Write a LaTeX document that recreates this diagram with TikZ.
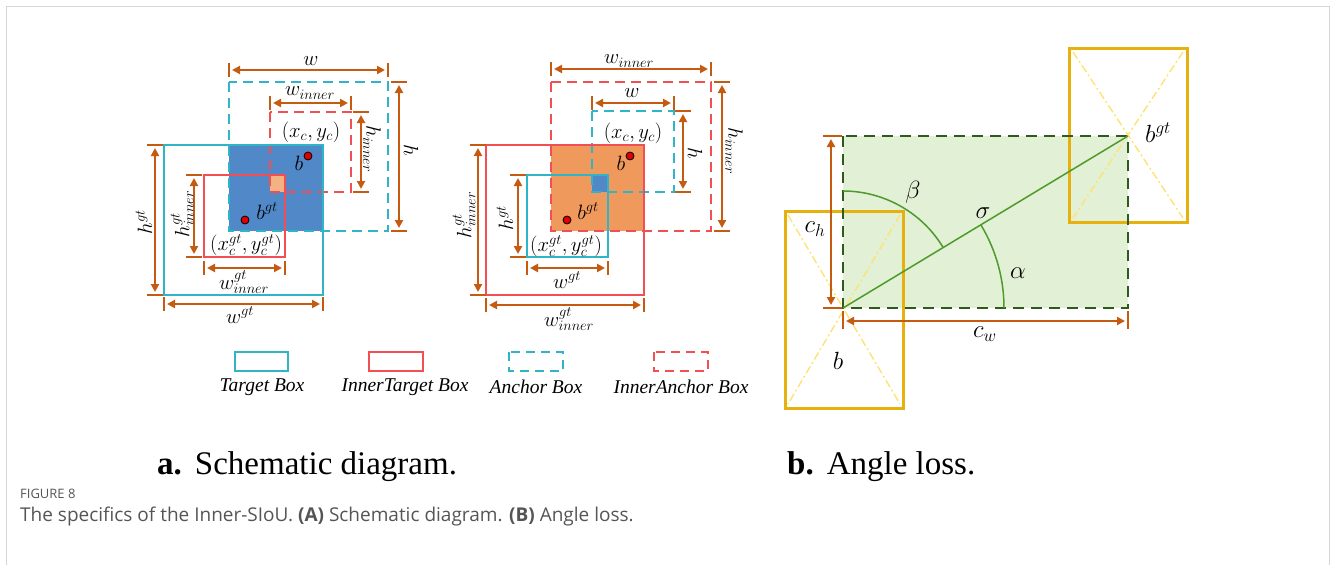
\documentclass[tikz,border=0pt]{standalone}
\usepackage{fontspec}
\setmainfont{Liberation Serif}
\newfontfamily\capfont{Open Sans}
\usetikzlibrary{arrows.meta}
\definecolor{cyanb}{HTML}{2FB4C8}
\definecolor{redb}{HTML}{F24F55}
\definecolor{bluef}{HTML}{5088C8}
\definecolor{salmonf}{HTML}{F4B183}
\definecolor{orangef}{HTML}{EF9A5C}
\definecolor{dimc}{HTML}{C55A11}
\definecolor{dotred}{HTML}{E00000}
\definecolor{goldb}{HTML}{E6B00E}
\definecolor{lyellow}{HTML}{FFE275}
\definecolor{dgreen}{HTML}{2F5A1E}
\definecolor{lgreen}{HTML}{E2F0D6}
\definecolor{mgreen}{HTML}{4E9A2A}
\definecolor{framec}{HTML}{D6D6D6}
\definecolor{capc}{HTML}{555555}
\newcommand\hdimline[3]{%
  \draw[ticksty] (#1,#3-7) -- (#1,#3+7);
  \draw[ticksty] (#2,#3-7) -- (#2,#3+7);
  \draw[dimsty] (#1,#3) -- (#2,#3);}
\newcommand\vdimline[3]{%
  \draw[ticksty] (#3-8,#1) -- (#3+8,#1);
  \draw[ticksty] (#3-8,#2) -- (#3+8,#2);
  \draw[dimsty] (#3,#1) -- (#3,#2);}
\begin{document}
\begin{tikzpicture}[x=1pt,y=-1pt,
  solidbox/.style={line width=2.6pt},
  dashbox/.style={line width=2.6pt,dash pattern=on 10pt off 6pt},
  ticksty/.style={draw=dimc,line width=2.4pt},
  dimsty/.style={draw=dimc,line width=2.4pt,shorten >=3pt,shorten <=3pt,
    {Triangle[length=8pt,width=8pt]}-{Triangle[length=8pt,width=8pt]}},
  lab/.style={font=\fontsize{19.5}{22}\selectfont,inner sep=0pt},
  rlab/.style={font=\fontsize{24}{27}\selectfont,inner sep=0pt},
  leg/.style={font=\fontsize{19.5}{22}\selectfont\itshape,inner sep=0pt},
  dotsty/.style={circle,fill=dotred,draw=black,line width=0.8pt,minimum size=8pt,inner sep=0pt},
  capsty/.style={font=\capfont\fontsize{19}{22}\selectfont,text=capc,inner sep=0pt,anchor=base west}
]
\useasboundingbox (0,0) rectangle (1332,565);
% frame
\draw[framec,line width=1.2pt] (6.5,565) -- (6.5,6.5) -- (1329.5,6.5) -- (1329.5,565);

% ================= left diagram =================
\fill[bluef] (229,145) rectangle (323,231);
\fill[salmonf] (270,175) rectangle (285,192);
\draw[cyanb,dashbox] (229,82) rectangle (388,231);
\draw[redb,dashbox] (270,112) rectangle (351,192);
\draw[cyanb,solidbox] (164,145) rectangle (323,295);
\draw[redb,solidbox] (204,175) rectangle (285,257);
\node[dotsty] (Lb) at (308,156) {};
\node[dotsty] (Lbgt) at (245,220) {};
\node[lab] (Lxc) at (311,132) {$(x_c,y_c)$};
\node[lab] (Lbl) at (299,163) {$b$};
\node[lab] (Lbgtl) at (267,211) {$b^{gt}$};
\node[lab] (Lxcgt) at (246,245) {$(x_c^{gt},y_c^{gt})$};
\hdimline{229}{388}{70}
\hdimline{270}{351}{103}
\vdimline{82}{231}{399}
\vdimline{112}{192}{361}
\vdimline{145}{295}{155}
\vdimline{175}{257}{194}
\hdimline{204}{285}{268}
\hdimline{164}{323}{304}
\node[lab] (Lw) at (311,61) {$w$};
\node[lab] (Lwin) at (310,93) {$w_{inner}$};
\node[lab,rotate=-90] (Lh) at (411,150) {$h$};
\node[lab,rotate=-90] (Lhin) at (372,149) {$h_{inner}$};
\node[lab,rotate=90] (Lhgt) at (144,222) {$h^{gt}$};
\node[lab,rotate=90] (Lhgtin) at (182,214) {$h^{gt}_{inner}$};
\node[lab] (Lwgtin) at (244,282) {$w^{gt}_{inner}$};
\node[lab] (Lwgt) at (240,315) {$w^{gt}$};

% ================= middle diagram =================
\fill[orangef] (551,145) rectangle (644,231);
\fill[bluef] (592,175) rectangle (608,192);
\draw[redb,dashbox] (551,82) rectangle (711,231);
\draw[cyanb,dashbox] (592,111) rectangle (674,192);
\draw[redb,solidbox] (486,145) rectangle (644,295);
\draw[cyanb,solidbox] (527,175) rectangle (608,257);
\node[dotsty] (Mb) at (630,156) {};
\node[dotsty] (Mbgt) at (567,220) {};
\node[lab] (Mxc) at (633,133) {$(x_c,y_c)$};
\node[lab] (Mbl) at (621,163) {$b$};
\node[lab] (Mbgtl) at (588,211) {$b^{gt}$};
\node[lab] (Mxcgt) at (566,246) {$(x_c^{gt},y_c^{gt})$};
\hdimline{551}{711}{69}
\hdimline{592}{674}{103}
\vdimline{111}{192}{683}
\vdimline{82}{231}{722}
\vdimline{145}{295}{478}
\vdimline{175}{257}{518}
\hdimline{527}{608}{268}
\hdimline{486}{644}{305}
\node[lab] (Mwin) at (629,61) {$w_{inner}$};
\node[lab] (Mw) at (632,93) {$w$};
\node[lab,rotate=-90] (Mh) at (695,153) {$h$};
\node[lab,rotate=-90] (Mhin) at (734,151) {$h_{inner}$};
\node[lab,rotate=90] (Mhgtin) at (464,215) {$h^{gt}_{inner}$};
\node[lab,rotate=90] (Mhgt) at (505,218) {$h^{gt}$};
\node[lab] (Mwgt) at (567,280) {$w^{gt}$};
\node[lab] (Mwgtin) at (569,319) {$w^{gt}_{inner}$};

% ================= legend =================
\draw[cyanb,solidbox] (235,352) rectangle (288,371);
\draw[redb,solidbox] (369,352) rectangle (423,371);
\draw[cyanb,line width=2.6pt,dash pattern=on 9pt off 6pt] (509,352) rectangle (563,371);
\draw[redb,line width=2.6pt,dash pattern=on 9pt off 6pt] (654,352) rectangle (708,371);
\node[leg] (G1) at (262,387) {Target Box};
\node[leg] (G2) at (405,387) {InnerTarget Box};
\node[leg] (G3) at (536,387) {Anchor Box};
\node[leg] (G4) at (681,387) {InnerAnchor Box};

% ================= right diagram =================
\fill[lgreen] (843,136) rectangle (1128,308);
\draw[goldb,line width=3pt] (785,211) rectangle (903,408);
\draw[lyellow,line width=1.4pt,dash pattern=on 8pt off 3pt on 2pt off 3pt] (788,215) -- (900,404);
\draw[lyellow,line width=1.4pt,dash pattern=on 8pt off 3pt on 2pt off 3pt] (900,215) -- (788,404);
\draw[goldb,line width=3pt] (1069,48) rectangle (1187,222);
\draw[lyellow,line width=1.4pt,dash pattern=on 8pt off 3pt on 2pt off 3pt] (1073,52) -- (1183,218);
\draw[lyellow,line width=1.4pt,dash pattern=on 8pt off 3pt on 2pt off 3pt] (1183,52) -- (1073,218);
\draw[dgreen,line width=2.6pt,dash pattern=on 11pt off 7pt] (843,136) rectangle (1128,308);
\coordinate (Pb) at (843,308);
\coordinate (Pg) at (1128,136);
\draw[mgreen,line width=1.5pt] (Pb) -- (Pg);
\draw[mgreen,line width=1.5pt] (843,191) arc[start angle=-90,end angle=-31.1,radius=117];
\draw[mgreen,line width=1.5pt] (1004,308) arc[start angle=0,end angle=-31.1,radius=161];
\draw[ticksty] (823,136) -- (842,136);
\draw[ticksty] (823,308) -- (842,308);
\draw[dimsty] (831,136) -- (831,308);
\draw[ticksty] (843,311) -- (843,329);
\draw[ticksty] (1128,311) -- (1128,329);
\draw[dimsty] (843,321) -- (1128,321);
\node[rlab] (Rbeta) at (913,192) {$\beta$};
\node[rlab] (Rsig) at (983,213) {$\sigma$};
\node[rlab] (Ralpha) at (1018,273) {$\alpha$};
\node[rlab] (Rch) at (815,229) {$c_h$};
\node[rlab] (Rcw) at (985,334) {$c_w$};
\node[rlab] (Rb) at (838,361) {$b$};
\node[rlab] (Rbgt) at (1158,133) {$b^{gt}$};

% ================= captions =================
\node[anchor=base west,inner sep=0pt,font=\fontsize{33}{37}\selectfont] (CapA) at (157,474) {\textbf{a.}\hspace{13pt}Schematic diagram.};
\node[anchor=base west,inner sep=0pt,font=\fontsize{33}{37}\selectfont] (CapB) at (787,474) {\textbf{b.}\hspace{13pt}Angle loss.};
\node[capsty,font=\capfont\fontsize{13}{15}\selectfont] (Fig) at (20,498) {FIGURE 8};
\node[capsty] (Cap) at (20,521) {The specifics of the Inner-SIoU. \textbf{(A)} Schematic diagram. \textbf{(B)} Angle loss.};
\end{tikzpicture}
\end{document}
